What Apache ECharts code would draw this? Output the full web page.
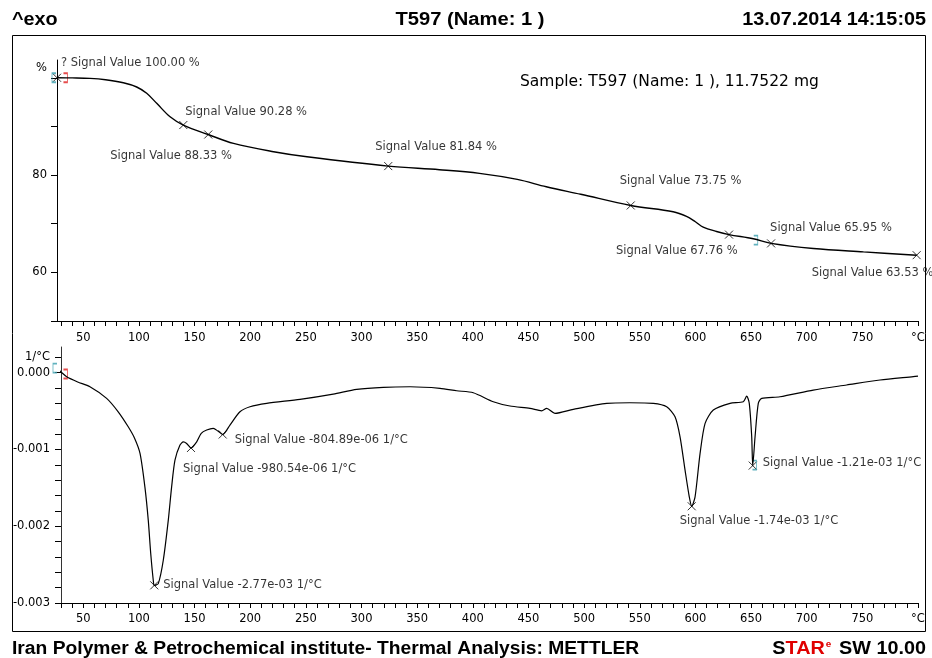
<!DOCTYPE html>
<html><head><meta charset="utf-8">
<script src="https://cdn.jsdelivr.net/npm/echarts@6/dist/echarts.min.js"></script>
<style>html,body{margin:0;padding:0;background:#fff}#c{width:932px;height:658px}</style>
</head><body><div id="c"></div>
<script>
// ---- TGA curve (temperature °C, mass %) ----
const tgT = [26.4, 40, 56, 70, 86, 98, 107, 116, 128, 139.9, 162.3, 185, 221, 251, 324, 370, 406, 440, 466, 497, 541.9, 580, 592, 600, 607, 619, 630.2, 652, 668, 706, 751, 798.8];
const tgV = [100.0, 99.97, 99.88, 99.6, 98.97, 98.1, 96.8, 94.74, 91.98, 90.28, 88.33, 86.5, 84.8, 83.76, 81.84, 81.1, 80.35, 79.1, 77.6, 76.05, 73.75, 72.45, 71.5, 70.4, 69.3, 68.4, 67.76, 66.9, 65.95, 64.9, 64.2, 63.53];

// ---- DTG curve (temperature °C, 1/°C) ----
const dtgT = [27.5, 30, 35.1, 45, 56, 71, 81.4, 90.4, 96, 101, 105.4, 108.4, 110.6, 112.9, 113.8, 117.4, 121.9, 126.4, 129.4, 132.4, 136.9, 139.9, 142.9, 146.8, 151.9, 156, 160.9, 166.8, 171, 175.3, 181.8, 190.8, 199.8, 214.8, 244.7, 274.6, 295.7, 319.6, 343.6, 370.5, 385.5, 400.4, 418.4, 433.4, 451.4, 461.9, 466.4, 473.8, 490.3, 520.3, 541.2, 562.2, 574.2, 581.7, 586.2, 590.7, 594.5, 596.7, 599.7, 604.2, 608.7, 616.1, 631.1, 643, 646.1, 648.4, 650.6, 651.5, 653.6, 656.5, 659.6, 676, 705.9, 735.9, 765.9, 795.8, 800];
const dtgV = [0.000044, 0.00001, -0.000052, -0.00012, -0.000183, -0.000334, -0.000509, -0.000704, -0.00085, -0.001051, -0.001491, -0.001921, -0.002352, -0.002704, -0.00277, -0.002747, -0.002443, -0.001921, -0.001487, -0.001139, -0.000943, -0.0009, -0.000921, -0.00098054, -0.0009, -0.00079, -0.000747, -0.000725, -0.00076, -0.00080489, -0.000682, -0.000509, -0.000443, -0.000399, -0.000347, -0.000278, -0.000217, -0.00019, -0.000183, -0.000203, -0.000235, -0.000261, -0.000378, -0.000434, -0.000464, -0.000496, -0.000464, -0.00053, -0.000477, -0.000399, -0.000391, -0.000399, -0.000443, -0.000574, -0.000835, -0.001269, -0.001617, -0.00174, -0.001617, -0.001051, -0.00066, -0.000486, -0.000399, -0.000378, -0.000304, -0.000399, -0.000835, -0.00121, -0.000835, -0.000399, -0.000334, -0.000313, -0.000226, -0.00016, -0.000095, -0.000052, -0.000045];

// ---- evaluated points ----
const tgMarkT = [26.4, 139.9, 162.3, 324, 541.9, 630.2, 668, 798.8];
const tgMarkV = [100.00, 90.28, 88.33, 81.84, 73.75, 67.76, 65.95, 63.53];
const tgMarkText = ['? Signal Value 100.00 %', 'Signal Value 90.28 %', 'Signal Value 88.33 %', 'Signal Value 81.84 %', 'Signal Value 73.75 %', 'Signal Value 67.76 %', 'Signal Value 65.95 %', 'Signal Value 63.53 %'];
const dtgMarkT = [113.8, 146.8, 175.3, 596.7, 651.5];
const dtgMarkV = [-2.77e-3, -980.54e-6, -804.89e-6, -1.74e-3, -1.21e-3];
const dtgMarkText = ['Signal Value -2.77e-03 1/°C', 'Signal Value -980.54e-06 1/°C', 'Signal Value -804.89e-06 1/°C', 'Signal Value -1.74e-03 1/°C', 'Signal Value -1.21e-03 1/°C'];

// ---- integration limits ----
const tgLimitT = [23.7, 34, 654.2];
const tgLimitV = [100, 100, 66.64];
const dtgLimitT = [24.6, 34, 653.1];
const dtgLimitV = [0.00006, -0.000017, -0.001204];

// ---- tick labels ----
const xLabelVals = [50, 100, 150, 200, 250, 300, 350, 400, 450, 500, 550, 600, 650, 700, 750, 800];
const xUnit = '°C';
const tgLabelVals = [60, 80, 102];
const tgUnit = '%';
const dtgLabelVals = [-0.003, -0.002, -0.001, 0, 0.0002];
const dtgUnit = '1/°C';

const headerLeft = '^exo', headerMid = 'T597 (Name: 1 )', headerRight = '13.07.2014 14:15:05';
const footerLeft = 'Iran Polymer & Petrochemical institute- Thermal Analysis: METTLER';
const sampleText = 'Sample: T597 (Name: 1 ), 11.7522 mg';

// layout for labels (pixel offsets from marker)
const tgLabelOff = [[4, -15], [2, -13], [-98, 21], [-13, -19], [-11, -24], [-113, 16], [-1, -15], [-105, 18]];
const dtgLabelOff = [[9, 0], [-8, 21], [12, 6], [-12, 15], [10, -3]];

const FONT = 'DejaVu Sans';
const xTicks = []; for (let t = 30; t <= 800; t += 10) xTicks.push(t);
const tgTicks = [50, 60, 70, 80, 90, 100];
const dtgTicks = []; for (let i = -15; i <= 1; i++) dtgTicks.push(Math.round(i * 2) / 10000);

const XSYM = 'path://M0,0L10,10M10,0L0,10';
const LB = 'path://M4,0L0,0L0,10L4,10';
const RB = 'path://M0,0L4,0L4,10L0,10';

function markData(T, V, texts, offs) {
  return T.map((t, i) => ({ value: [t, V[i]], name: texts[i],
    label: { offset: offs[i] } }));
}
function limitData(T, V) {
  const cols = ['#3a9fae', '#e02020', '#3a9fae'];
  const syms = [LB, RB, RB];
  return T.map((t, i) => ({ value: [t, V[i]], symbol: syms[i], itemStyle: { borderColor: cols[i] } }));
}

const xAxisCommon = (gi, min, margin) => ({
  gridIndex: gi, type: 'value', min: min, max: 800,
  axisLine: { onZero: false, lineStyle: { color: '#000', width: 1 } },
  axisTick: { customValues: xTicks, length: 5, lineStyle: { color: '#000' } },
  axisLabel: { customValues: xLabelVals, margin: margin, color: '#000', fontFamily: FONT, fontSize: 11.5,
    formatter: v => (Math.abs(v - 800) < 1e-6 ? xUnit : String(v)) },
  splitLine: { show: false }
});

const BF = 'bold 18px "Liberation Sans"';
const chart = echarts.init(document.getElementById('c'), null, { renderer: 'canvas' });
chart.setOption({
  animation: false,
  backgroundColor: '#fff',
  grid: [
    { left: 57, right: 14, top: 60, height: 261 },
    { left: 61, right: 14, top: 347, height: 256 }
  ],
  xAxis: [xAxisCommon(0, 26.4, 11), xAxisCommon(1, 30, 10)],
  yAxis: [
    { gridIndex: 0, type: 'value', min: 50, max: 103.65,
      axisLine: { show: true, onZero: false, lineStyle: { color: '#000' } },
      axisTick: { show: true, customValues: tgTicks, length: 6, lineStyle: { color: '#000' } },
      axisLabel: { customValues: tgLabelVals, margin: 10, color: '#000', fontFamily: FONT, fontSize: 11.5,
        formatter: v => (v > 101 ? tgUnit : String(v)) },
      splitLine: { show: false } },
    { gridIndex: 1, type: 'value', min: -0.003, max: 0.000335,
      axisLine: { show: true, onZero: false, lineStyle: { color: '#333' } },
      axisTick: { show: true, customValues: dtgTicks, length: 6, lineStyle: { color: '#000' } },
      axisLabel: { customValues: dtgLabelVals, margin: 11, color: '#000', fontFamily: FONT, fontSize: 11.5,
        formatter: v => (v > 0.0001 ? dtgUnit : v.toFixed(3)) },
      splitLine: { show: false } }
  ],
  series: [
    { type: 'line', xAxisIndex: 0, yAxisIndex: 0, data: tgT.map((t, i) => [t, tgV[i]]),
      smooth: 0.35, showSymbol: false, clip: false,
      lineStyle: { color: '#000', width: 1.4 } },
    { type: 'line', xAxisIndex: 1, yAxisIndex: 1, data: dtgT.map((t, i) => [t, dtgV[i]]),
      smooth: 0.25, showSymbol: false, clip: false,
      lineStyle: { color: '#000', width: 1.2 } },
    { type: 'scatter', xAxisIndex: 0, yAxisIndex: 0, clip: false,
      data: markData(tgMarkT, tgMarkV, tgMarkText, tgLabelOff),
      symbol: XSYM, symbolSize: 8,
      itemStyle: { color: 'rgba(0,0,0,0)', borderColor: '#000', borderWidth: 1 },
      label: { show: true, position: 'inside', align: 'left', verticalAlign: 'middle',
        formatter: p => p.name, color: '#000', fontFamily: FONT, fontSize: 11.5 } },
    { type: 'scatter', xAxisIndex: 1, yAxisIndex: 1, clip: false,
      data: markData(dtgMarkT, dtgMarkV, dtgMarkText, dtgLabelOff),
      symbol: XSYM, symbolSize: 8,
      itemStyle: { color: 'rgba(0,0,0,0)', borderColor: '#000', borderWidth: 1 },
      label: { show: true, position: 'inside', align: 'left', verticalAlign: 'middle',
        formatter: p => p.name, color: '#000', fontFamily: FONT, fontSize: 11.5 } },
    { type: 'scatter', xAxisIndex: 0, yAxisIndex: 0, clip: false,
      data: limitData(tgLimitT, tgLimitV), symbolSize: [4, 9],
      itemStyle: { color: 'rgba(0,0,0,0)', borderWidth: 1.2 } },
    { type: 'scatter', xAxisIndex: 1, yAxisIndex: 1, clip: false,
      data: limitData(dtgLimitT, dtgLimitV), symbolSize: [4, 9],
      itemStyle: { color: 'rgba(0,0,0,0)', borderWidth: 1.2 } }
  ],
  graphic: [
    { type: 'rect', shape: { x: 12.5, y: 35.5, width: 913, height: 596 }, style: { fill: 'none', stroke: '#000', lineWidth: 1 }, silent: true },
    { type: 'text', x: 12, y: 20, scaleX: 1.1, style: { text: headerLeft, font: BF, fill: '#000', textAlign: 'left', textVerticalAlign: 'middle' } },
    { type: 'text', x: 470, y: 20, scaleX: 1.12, style: { text: headerMid, font: BF, fill: '#000', textAlign: 'center', textVerticalAlign: 'middle' } },
    { type: 'text', x: 926, y: 20, scaleX: 1.1, style: { text: headerRight, font: BF, fill: '#000', textAlign: 'right', textVerticalAlign: 'middle' } },
    { type: 'text', x: 520, y: 82, style: { text: sampleText, font: '15.5px "DejaVu Sans"', fill: '#000', textAlign: 'left', textVerticalAlign: 'middle' } },
    { type: 'text', x: 12, y: 649, scaleX: 1.07, style: { text: footerLeft, font: BF, fill: '#000', textAlign: 'left', textVerticalAlign: 'middle' } },
    { type: 'text', x: 926, y: 649, scaleX: 1.1, style: {
        text: '{k|S}{r|TAR}{s|e}{k| SW 10.00}', textAlign: 'right', textVerticalAlign: 'middle',
        rich: {
          k: { font: BF, fill: '#000' },
          r: { font: BF, fill: '#e00000' },
          s: { font: 'bold 9px "Liberation Sans"', fill: '#e00000', verticalAlign: 'top', padding: [0, 2, 7, 1] }
        } } }
  ]
});
</script>
</body></html>
